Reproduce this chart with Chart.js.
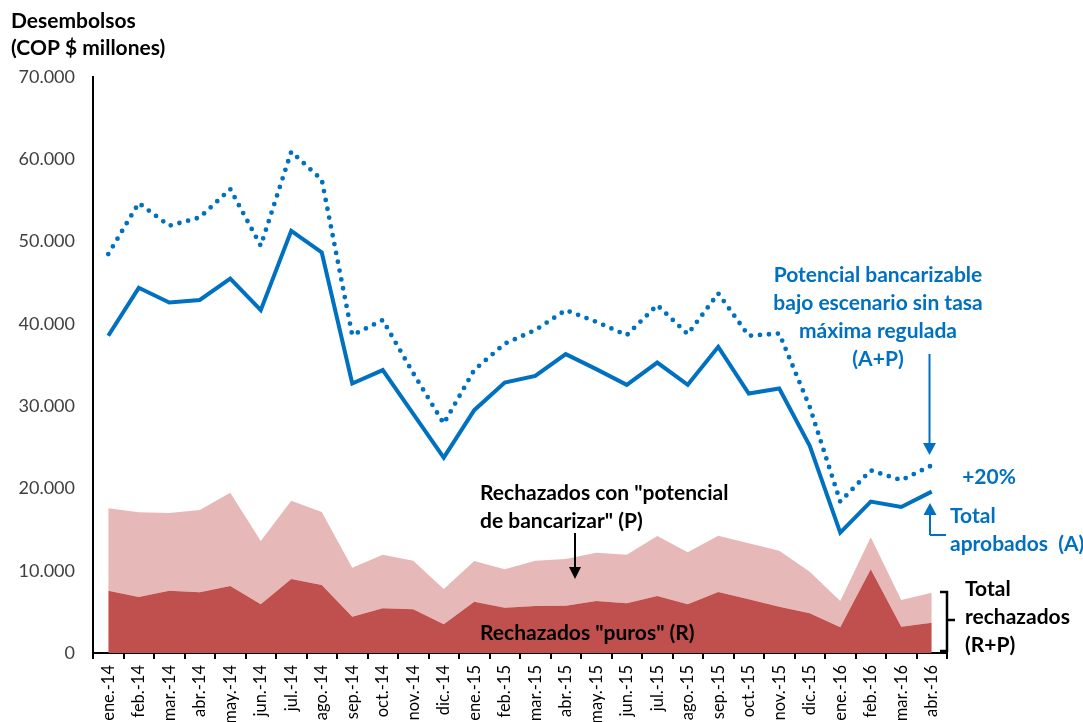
<!DOCTYPE html>
<html>
<head>
<meta charset="utf-8">
<script src="https://cdn.jsdelivr.net/npm/chart.js@4"></script>
<style>
  html, body { margin: 0; padding: 0; background: #fff; }
  #wrap { width: 1083px; height: 722px; }
</style>
</head>
<body>
<div id="wrap"><canvas id="chart" width="1083" height="722"></canvas></div>
<script>
const meses = [
  'ene.-14', 'feb.-14', 'mar.-14', 'abr.-14', 'may.-14', 'jun.-14', 'jul.-14', 'ago.-14',
  'sep.-14', 'oct.-14', 'nov.-14', 'dic.-14', 'ene.-15', 'feb.-15', 'mar.-15', 'abr.-15',
  'may.-15', 'jun.-15', 'jul.-15', 'ago.-15', 'sep.-15', 'oct.-15', 'nov.-15', 'dic.-15',
  'ene.-16', 'feb.-16', 'mar.-16', 'abr.-16'
];

// Total aprobados (A)
const aprobados = [
  38550, 44380, 42600, 42900, 45500, 41670, 51300, 48680,
  32750, 34380, 29060, 23750, 29510, 32870, 33680, 36320,
  34500, 32590, 35300, 32590, 37210, 31530, 32140, 25170,
  14630, 18400, 17750, 19610
];

// Potencial bancarizable sin tasa maxima (A+P)
const potencial = [
  48480, 54680, 51920, 52930, 56380, 49490, 60920, 57520,
  38630, 40460, 34000, 27880, 34400, 37600, 39240, 41670,
  40250, 38630, 42280, 38750, 43700, 38550, 38830, 29900,
  18400, 22200, 21000, 22800
];

// Rechazados "puros" (R)
const rechazadosPuros = [
  7570, 6800, 7550, 7370, 8140, 5910, 8990, 8260,
  4410, 5430, 5310, 3480, 6240, 5510, 5710, 5750,
  6320, 6040, 6930, 5910, 7410, 6520, 5630, 4820,
  3120, 10170, 3200, 3680
];

// Total rechazados (R+P)
const totalRechazados = [
  17580, 17090, 17010, 17370, 19480, 13610, 18510, 17130,
  10370, 11930, 11220, 7780, 11180, 10170, 11220, 11420,
  12190, 11950, 14220, 12230, 14260, 13330, 12430, 9880,
  6320, 14060, 6440, 7330
];

const yTicks = [0, 10000, 20000, 30000, 40000, 50000, 60000, 70000];

const AZUL = '#0070C0';
const FONT = 'Lato, "Open Sans", sans-serif';

function miles(v) {
  return String(v).replace(/\B(?=(\d{3})+(?!\d))/g, '.');
}

function flecha(ctx, x, y1, y2, color, half) {
  // y2 is the tip
  const dir = y2 > y1 ? 1 : -1;
  const head = 12;
  ctx.strokeStyle = color;
  ctx.fillStyle = color;
  ctx.lineWidth = 2;
  ctx.beginPath();
  ctx.moveTo(x, y1);
  ctx.lineTo(x, y2 - dir * head);
  ctx.stroke();
  ctx.beginPath();
  ctx.moveTo(x - half, y2 - dir * head);
  ctx.lineTo(x + half, y2 - dir * head);
  ctx.lineTo(x, y2);
  ctx.closePath();
  ctx.fill();
}

const anotaciones = {
  id: 'anotaciones',
  afterDraw(chart) {
    const ctx = chart.ctx;
    ctx.save();
    ctx.textBaseline = 'middle';

    // axis title
    ctx.fillStyle = '#000';
    ctx.font = 'bold 21px ' + FONT;
    ctx.textAlign = 'left';
    ctx.fillText('Desembolsos', 11, 21);
    ctx.fillText('(COP $ millones)', 11, 48);

    // blue labels
    ctx.fillStyle = AZUL;
    ctx.textAlign = 'center';
    ctx.fillText('Potencial bancarizable', 878, 275);
    ctx.fillText('bajo escenario sin tasa', 878, 303);
    ctx.fillText('máxima regulada', 878, 331);
    ctx.fillText('(A+P)', 878, 359);
    ctx.fillText('+20%', 989, 477);
    ctx.textAlign = 'left';
    ctx.fillText('Total', 950, 516);
    ctx.fillText('aprobados  (A)', 950, 544);

    // black labels
    ctx.fillStyle = '#000';
    ctx.fillText('Rechazados con "potencial', 480, 493);
    ctx.fillText('de bancarizar" (P)', 480, 521);
    ctx.fillText('Rechazados "puros" (R)', 480, 633);
    ctx.fillText('Total', 965, 589);
    ctx.fillText('rechazados', 965, 617);
    ctx.fillText('(R+P)', 965, 645);

    // arrows
    flecha(ctx, 929.5, 354, 455, AZUL, 6.5);
    flecha(ctx, 930, 535, 503, AZUL, 6.5);
    ctx.beginPath();
    ctx.moveTo(930, 535);
    ctx.lineTo(946, 535);
    ctx.stroke();
    flecha(ctx, 575, 533, 579, '#000', 6);

    // bracket for total rechazados
    ctx.strokeStyle = '#000';
    ctx.lineWidth = 2.5;
    ctx.beginPath();
    ctx.moveTo(940, 592);
    ctx.lineTo(947, 592);
    ctx.lineTo(947, 651);
    ctx.lineTo(940, 651);
    ctx.moveTo(947, 620);
    ctx.lineTo(955, 620);
    ctx.stroke();

    ctx.restore();
  }
};

new Chart(document.getElementById('chart'), {
  type: 'line',
  data: {
    labels: meses,
    datasets: [
      {
        label: 'Total aprobados (A)',
        data: aprobados,
        borderColor: AZUL,
        borderWidth: 4,
        pointRadius: 0,
        tension: 0,
        fill: false
      },
      {
        label: 'Potencial bancarizable (A+P)',
        data: potencial,
        borderColor: AZUL,
        borderWidth: 4.8,
        borderDash: [0, 9],
        borderCapStyle: 'round',
        pointRadius: 0,
        tension: 0,
        fill: false
      },
      {
        label: 'Rechazados "puros" (R)',
        data: rechazadosPuros,
        borderWidth: 0,
        borderColor: 'rgba(0,0,0,0)',
        backgroundColor: '#C0504D',
        pointRadius: 0,
        tension: 0,
        fill: 'origin'
      },
      {
        label: 'Total rechazados (R+P)',
        data: totalRechazados,
        borderWidth: 0,
        borderColor: 'rgba(0,0,0,0)',
        backgroundColor: '#E6B9B8',
        pointRadius: 0,
        tension: 0,
        fill: '-1'
      }
    ]
  },
  options: {
    responsive: false,
    animation: false,
    devicePixelRatio: 1,
    layout: {
      padding: { top: 77, right: 136, left: 0, bottom: 0 }
    },
    plugins: {
      legend: { display: false },
      tooltip: { enabled: false }
    },
    scales: {
      x: {
        offset: true,
        grid: {
          display: true,
          offset: true,
          drawOnChartArea: false,
          drawTicks: true,
          tickLength: 6,
          color: '#000',
          lineWidth: 2
        },
        border: { display: true, color: '#000', width: 2 },
        ticks: {
          minRotation: 90,
          maxRotation: 90,
          autoSkip: false,
          padding: 6,
          color: '#000',
          font: { family: FONT, size: 16.5 }
        },
        afterFit(scale) { scale.height = 69; }
      },
      y: {
        min: 0,
        max: 70000,
        afterBuildTicks(scale) {
          scale.ticks = yTicks.map(v => ({ value: v }));
        },
        grid: { display: false, drawTicks: false },
        border: { display: true, color: '#000', width: 2 },
        ticks: {
          padding: 18,
          color: '#404040',
          font: { family: FONT, size: 18 },
          callback: v => miles(v)
        },
        afterFit(scale) { scale.width = 93; }
      }
    }
  },
  plugins: [anotaciones]
});
</script>
</body>
</html>
